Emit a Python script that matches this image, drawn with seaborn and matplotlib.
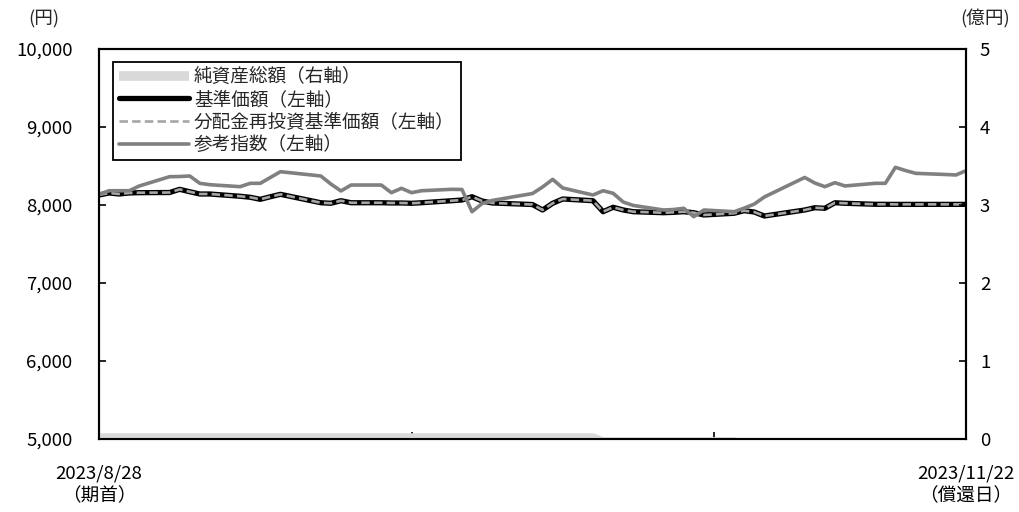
import matplotlib
matplotlib.use("Agg")
import matplotlib.pyplot as plt
import seaborn as sns
import pandas as pd
from matplotlib.lines import Line2D
from matplotlib.ticker import FuncFormatter

# ---------------- data ----------------
dates = [
    "2023-08-28", "2023-08-29", "2023-08-30", "2023-08-31", "2023-09-01",
    "2023-09-04", "2023-09-05", "2023-09-06", "2023-09-07", "2023-09-08",
    "2023-09-11", "2023-09-12", "2023-09-13", "2023-09-14", "2023-09-15",
    "2023-09-19", "2023-09-20", "2023-09-21", "2023-09-22",
    "2023-09-25", "2023-09-26", "2023-09-27", "2023-09-28", "2023-09-29",
    "2023-10-02", "2023-10-03", "2023-10-04", "2023-10-05", "2023-10-06",
    "2023-10-10", "2023-10-11", "2023-10-12", "2023-10-13",
    "2023-10-16", "2023-10-17", "2023-10-18", "2023-10-19", "2023-10-20",
    "2023-10-23", "2023-10-24", "2023-10-25", "2023-10-26", "2023-10-27",
    "2023-10-30", "2023-10-31", "2023-11-01", "2023-11-02",
    "2023-11-06", "2023-11-07", "2023-11-08", "2023-11-09", "2023-11-10",
    "2023-11-13", "2023-11-14", "2023-11-15", "2023-11-16", "2023-11-17",
    "2023-11-20", "2023-11-21", "2023-11-22",
]

nav = [
    8128, 8154, 8141, 8154, 8158,
    8160, 8201, 8170, 8141, 8141,
    8112, 8099, 8073, 8106, 8137,
    8029, 8022, 8055, 8029,
    8029, 8026, 8026, 8022, 8029,
    8055, 8064, 8106, 8051, 8026,
    8006, 7936, 8022, 8077,
    8055, 7914, 7971, 7936, 7914,
    7901, 7906, 7914, 7901, 7872,
    7894, 7927, 7910, 7859,
    7936, 7965, 7958, 8029, 8022,
    8009, 8009, 8008, 8008, 8008,
    8008, 8008, 8008,
]

nav_reinvest = list(nav)

ref_index = [
    8137, 8183, 8183, 8183, 8244,
    8363, 8365, 8372, 8278, 8260,
    8235, 8278, 8278, 8353, 8427,
    8372, 8269, 8180, 8256,
    8256, 8158, 8214, 8158, 8183,
    8201, 8199, 7914, 8019, 8058,
    8147, 8231, 8329, 8218,
    8128, 8183, 8150, 8038, 7994,
    7936, 7942, 7958, 7850, 7936,
    7914, 7960, 8012, 8103,
    8353, 8282, 8235, 8286, 8244,
    8278, 8278, 8483, 8442, 8406,
    8391, 8385, 8440,
]

net_assets = [0.08] * 34 + [0.03] * 10 + [0.0] * 16

tick_dates = ["2023-08-28", "2023-09-28", "2023-10-28", "2023-11-22"]
tick_labels = ["2023/8/28\n（期首）", "", "", "2023/11/22\n（償還日）"]

legend_labels = ["純資産総額（右軸）", "基準価額（左軸）", "分配金再投資基準価額（左軸）", "参考指数（左軸）"]

df = pd.DataFrame({
    "date": pd.to_datetime(dates),
    "nav": nav,
    "reinvest": nav_reinvest,
    "index": ref_index,
    "assets": net_assets,
})

# ---------------- style ----------------
sns.set_theme(style="white")
plt.rcParams['font.family'] = ['Noto Sans CJK JP', 'DejaVu Sans']
FS = 13.4

fig = plt.figure(figsize=(10.19, 5.12), dpi=100)
ax = fig.add_axes([99 / 1019, 1 - 439 / 512, 867 / 1019, 390 / 512])
ax2 = ax.twinx()

# net assets area (right axis)
ax2.fill_between(df["date"], 0, df["assets"], color="#d9d9d9", lw=0, zorder=1)

# lines (left axis)
sns.lineplot(data=df, x="date", y="nav", ax=ax, color="black", lw=3.8, zorder=3)
sns.lineplot(data=df, x="date", y="reinvest", ax=ax, color="#a6a6a6", lw=1.9,
             linestyle=(0, (3.2, 1.6)), zorder=4)
sns.lineplot(data=df, x="date", y="index", ax=ax, color="#808080", lw=2.6, zorder=5)

ax.set_ylim(5000, 10000)
ax.set_yticks(range(5000, 10001, 1000))
ax.yaxis.set_major_formatter(FuncFormatter(lambda v, p: f"{int(v):,}"))
ax2.set_ylim(0, 5)
ax2.set_yticks(range(0, 6))

ax.set_xlim(pd.Timestamp(dates[0]), pd.Timestamp(dates[-1]))
ax.set_xticks(pd.to_datetime(tick_dates))
ax.set_xticklabels(tick_labels)
for t in ax.get_xticklabels():
    t.set_linespacing(1.38)

ax.set_xlabel("")
ax.set_ylabel("")
ax2.set_ylabel("")

ax.tick_params(axis="y", direction="in", length=5, width=1.2, pad=19,
               labelsize=FS, colors="black", left=True)
ax.tick_params(axis="x", direction="in", length=5, width=1.2, pad=18,
               labelsize=FS, colors="black", bottom=True)
ax2.tick_params(axis="y", direction="in", length=5, width=1.2, pad=10,
                labelsize=FS, colors="black", right=True)

for a in (ax, ax2):
    for s in a.spines.values():
        s.set_visible(True)
        s.set_color("black")
        s.set_linewidth(1.5)

# legend
handles = [
    Line2D([0], [0], color="#d9d9d9", lw=7, solid_capstyle="butt"),
    Line2D([0], [0], color="black", lw=3.8),
    Line2D([0], [0], color="#a6a6a6", lw=1.9, linestyle=(0, (3.2, 1.6))),
    Line2D([0], [0], color="#808080", lw=2.6),
]
leg = ax2.legend(handles, legend_labels, loc="upper left",
                 bbox_to_anchor=(14 / 867, (439 - 62) / 390),
                 frameon=True, fancybox=False, edgecolor="black", framealpha=1,
                 fontsize=FS, handlelength=3.75, handletextpad=0.27,
                 labelspacing=0.25, borderpad=0.33, borderaxespad=0)
leg.get_frame().set_linewidth(1.3)

# unit labels
fig.text(44 / 1019, 1 - 19 / 512, "(円)", ha="center", va="center", fontsize=FS)
fig.text(985 / 1019, 1 - 19 / 512, "(億円)", ha="center", va="center", fontsize=FS)

fig.savefig("out.png", dpi=100)
